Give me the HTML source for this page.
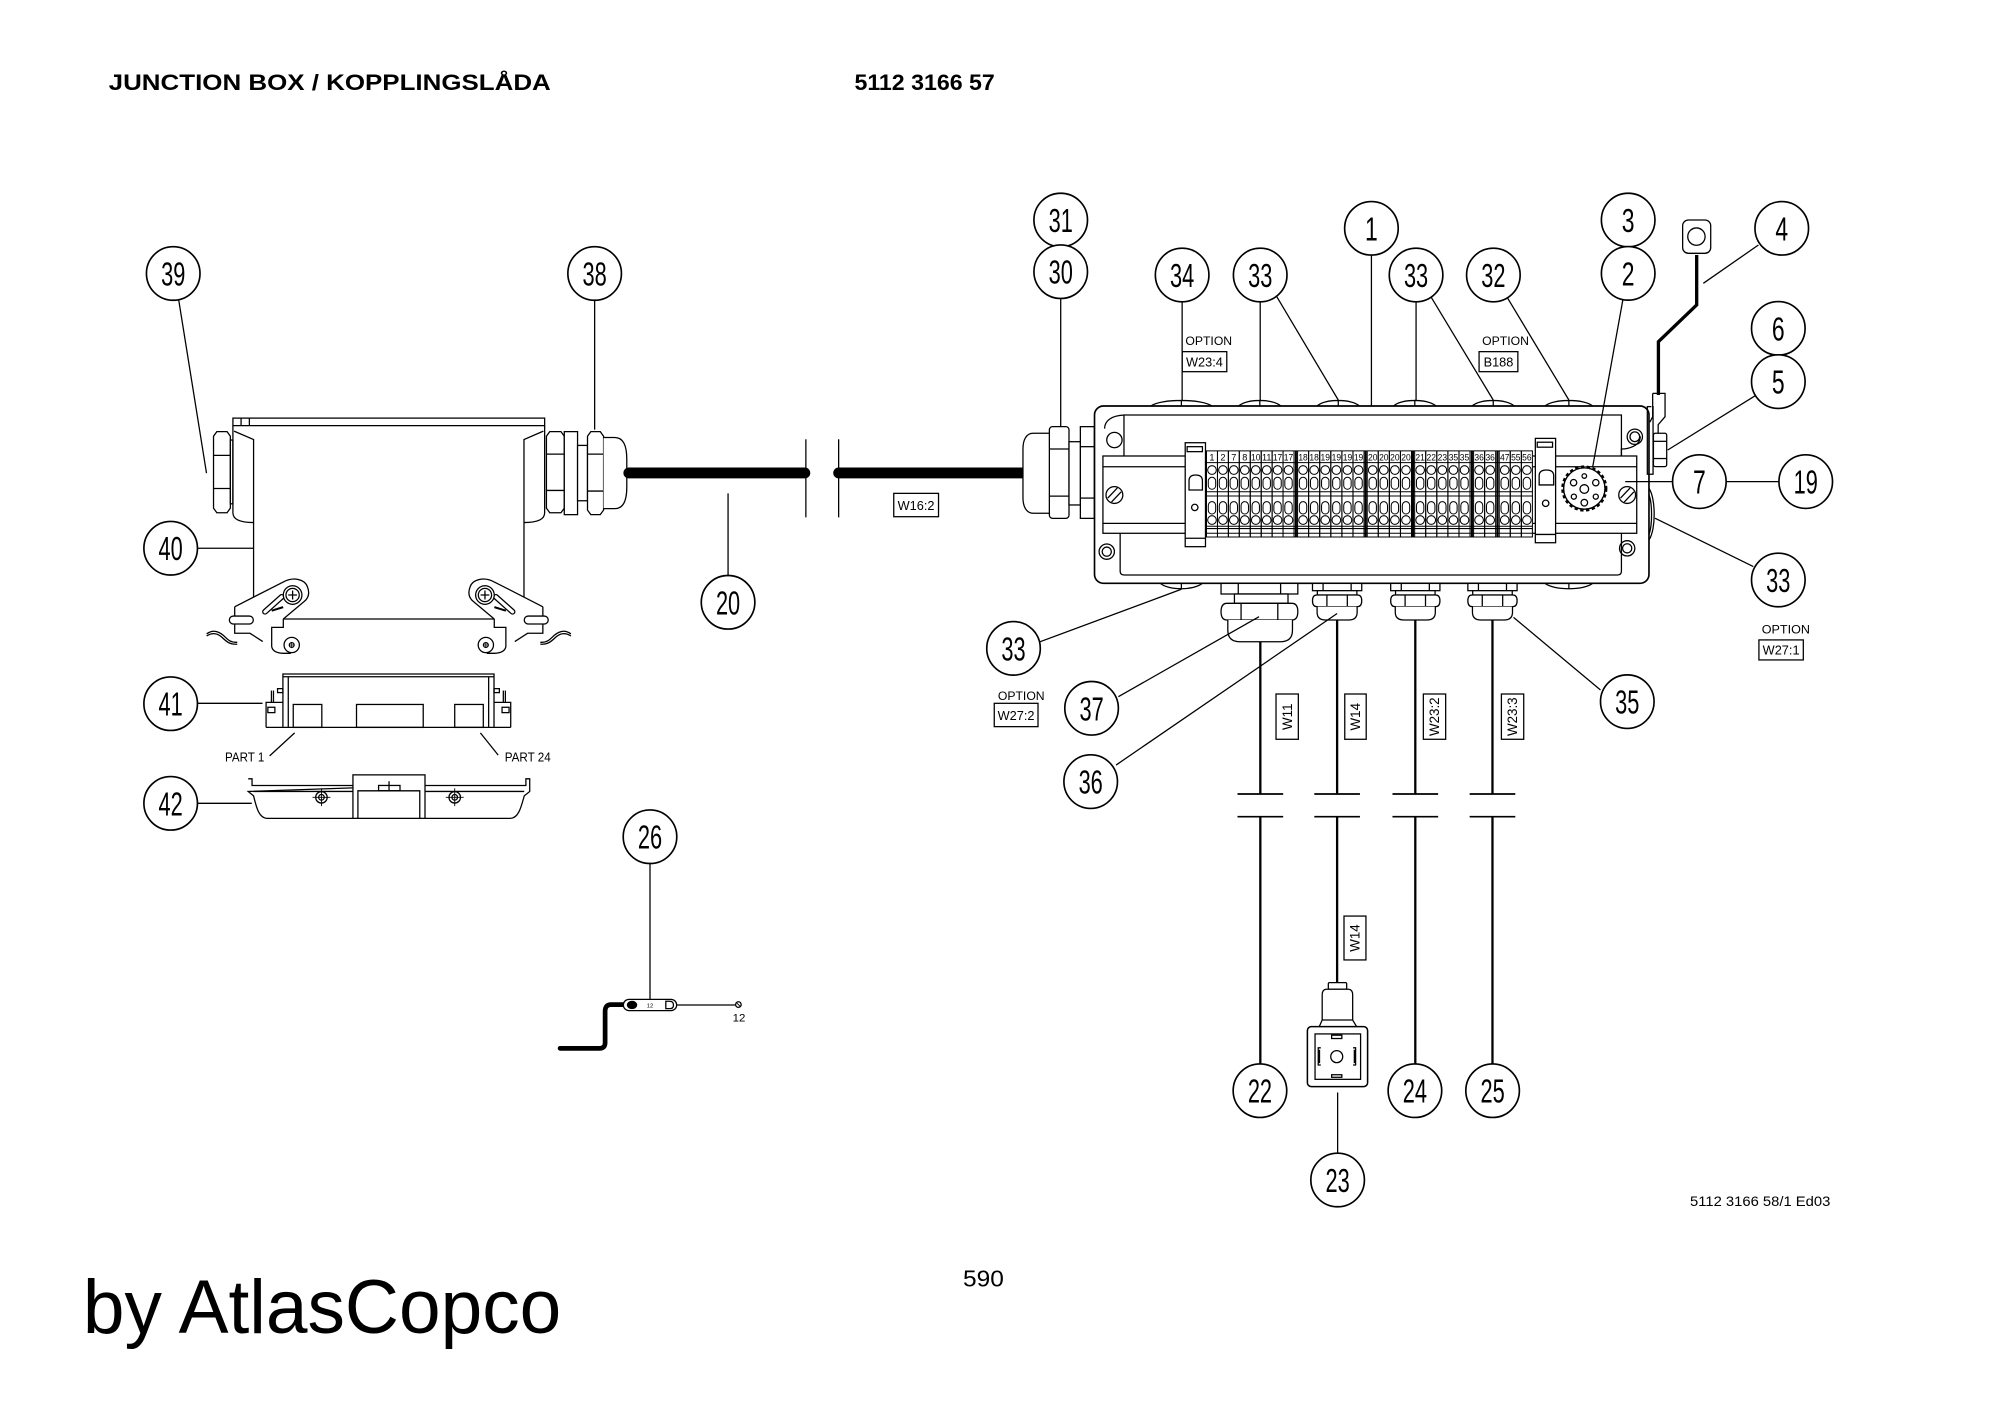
<!DOCTYPE html>
<html><head><meta charset="utf-8"><style>html,body{margin:0;padding:0;background:#fff;width:2000px;height:1413px;overflow:hidden}svg{display:block}</style></head>
<body>
<svg xmlns="http://www.w3.org/2000/svg" xmlns:xlink="http://www.w3.org/1999/xlink" width="2000" height="1413" viewBox="0 0 1568 1107.8" font-family="'Liberation Sans', Arial, sans-serif">
<defs>
<g id="t" fill="none" stroke="#000" stroke-width="0.8">
<line x1="-4.3" y1="353.5" x2="-4.3" y2="421"/>
<line x1="4.3" y1="353.5" x2="4.3" y2="421"/>
<circle cx="0" cy="368.5" r="3.4"/>
<rect x="-2.9" y="374.2" width="5.8" height="9.4" rx="2.9"/>
<rect x="-2.9" y="393.3" width="5.8" height="9.7" rx="2.9"/>
<circle cx="0" cy="407.7" r="3.4"/>
</g>
<g id="gl" fill="#fff" stroke="#000" stroke-width="1">
<rect x="-19.3" y="457.4" width="38.6" height="5.7"/>
<line x1="-11" y1="457.4" x2="-11" y2="463.1"/>
<line x1="11" y1="457.4" x2="11" y2="463.1"/>
<rect x="-15.5" y="463.1" width="31" height="3.4"/>
<path d="M-16 466.5 H16 Q19.3 466.5 19.3 471 Q19.3 475.6 16 475.6 H-16 Q-19.3 475.6 -19.3 471 Q-19.3 466.5 -16 466.5 Z"/>
<line x1="-8" y1="466.5" x2="-8" y2="475.6"/>
<line x1="8" y1="466.5" x2="8" y2="475.6"/>
<path d="M-15.7 475.6 V480 Q-15.7 486.1 -9 486.1 H9 Q15.7 486.1 15.7 480 V475.6"/>
</g>
<g id="latch" fill="none" stroke="#000" stroke-width="1">
<path d="M184 475.7 L222 456.3 C230 452 239 454 241 460 C243 465 242 469 238 472 L222.1 485.3" fill="#fff"/>
<path d="M184 475.7 V496.5 H196 L206 503"/>
<path d="M222.1 485.3 V491.9 H213 V507 Q214 512 222 512.2 H228"/>
<rect x="179.8" y="483" width="18.8" height="6.2" rx="3.1" fill="#fff"/>
<path d="M162 497 C166 494 170 494 175 498 C179 502 181 504 186 503.5"/>
<path d="M162 498.6 C166 496 170 496 174 499.6 C178 503.6 181 505.6 186 505"/>
<line x1="207.8" y1="479.6" x2="220.8" y2="468" stroke-width="4.6" stroke-linecap="round"/>
<line x1="207.8" y1="479.6" x2="220.8" y2="468" stroke="#fff" stroke-width="2.6" stroke-linecap="round"/>
<line x1="213" y1="478.8" x2="222" y2="476" stroke-width="1.6"/>
<circle cx="229.4" cy="466.5" r="7.3" fill="#fff"/>
<circle cx="229.4" cy="466.5" r="5.2"/>
<path d="M226 466.5 H232.8 M229.4 463 V470"/>
<circle cx="228.7" cy="505.7" r="6" fill="#fff"/>
<circle cx="228.7" cy="505.7" r="1.9"/>
<path d="M226.8 505.7 H230.6 M228.7 503.8 V507.6" stroke-width="0.6"/>
</g>
</defs>

<rect x="0" y="0" width="1568" height="1107.8" fill="#fff"/>

<!-- Titles -->
<text x="85.2" y="70.6" font-size="17.5" font-weight="bold" textLength="346.6" lengthAdjust="spacingAndGlyphs">JUNCTION BOX / KOPPLINGSLÅDA</text>
<text x="669.9" y="70.6" font-size="17.5" font-weight="bold" textLength="110" lengthAdjust="spacingAndGlyphs">5112 3166 57</text>
<text x="1325" y="945.5" font-size="11" textLength="110" lengthAdjust="spacingAndGlyphs">5112 3166 58/1 Ed03</text>
<text x="755" y="1008.8" font-size="18" textLength="32" lengthAdjust="spacingAndGlyphs">590</text>
<text x="65" y="1045" font-size="60" textLength="375" lengthAdjust="spacingAndGlyphs">by AtlasCopco</text>

<g fill="none" stroke="#000" stroke-width="1">

<!-- ===== LEFT BOX (40) ===== -->
<rect x="182.6" y="327.8" width="244.4" height="5.9"/>
<line x1="189" y1="327.8" x2="189" y2="333.7"/>
<line x1="195.5" y1="327.8" x2="195.5" y2="333.7"/>
<path d="M182.6 333.7 V402 C182.6 408 190 409.7 198.8 409.7"/>
<path d="M183.5 338 L198.8 344.6 V469"/>
<path d="M427 333.7 V402 C427 408 419.6 409.7 410.8 409.7"/>
<path d="M426 338 L410.8 344.6 V469"/>
<path d="M222.1 485.3 H387.5"/>
<!-- nut 39 -->
<path d="M170 338.4 H178 L180.6 342 V398.4 L178 402 H170 L167.4 398.4 V342 Z" fill="#fff"/>
<line x1="167.4" y1="357" x2="180.6" y2="357"/>
<line x1="167.4" y1="383" x2="180.6" y2="383"/>
<rect x="180.6" y="345" width="2" height="50"/>
<!-- gland 38 -->
<path d="M431 338.4 H439.8 L442.4 342 V398.4 L439.8 402 H431 L428.4 398.4 V342 Z" fill="#fff"/>
<line x1="428.4" y1="356" x2="442.4" y2="356"/>
<line x1="428.4" y1="384.5" x2="442.4" y2="384.5"/>
<rect x="442.4" y="338.4" width="10.4" height="65.1" fill="#fff"/>
<rect x="452.8" y="349.2" width="7.8" height="43.4" fill="#fff"/>
<path d="M463.2 338.4 H470.6 L473.2 342 V399.9 L470.6 403.5 H463.2 L460.6 399.9 V342 Z" fill="#fff"/>
<line x1="460.6" y1="356" x2="473.2" y2="356"/>
<line x1="460.6" y1="385" x2="473.2" y2="385"/>
<path d="M473.2 343 H482 C489 343 491.4 350 491.4 360 V382 C491.4 392 489 398.8 482 398.8 H473.2" fill="#fff"/>
<!-- latches -->
<use xlink:href="#latch" href="#latch"/>
<use xlink:href="#latch" href="#latch" transform="translate(609.6,0) scale(-1,1)"/>

<!-- ===== PART 41 ===== -->
<path d="M221.8 570.3 V528.4 H387.3 V570.3"/>
<line x1="221.8" y1="530.6" x2="387.3" y2="530.6"/>
<line x1="226" y1="530.6" x2="226" y2="570.3"/>
<line x1="383.1" y1="530.6" x2="383.1" y2="570.3"/>
<path d="M208.6 570.3 V550.7 H221.8"/>
<path d="M400.4 570.3 V550.7 H387.3"/>
<line x1="212.8" y1="541.4" x2="212.8" y2="550.7"/>
<line x1="214.4" y1="541.4" x2="214.4" y2="550.7"/>
<line x1="394.6" y1="541.4" x2="394.6" y2="550.7"/>
<line x1="396.2" y1="541.4" x2="396.2" y2="550.7"/>
<rect x="210" y="554.5" width="5.5" height="4.2"/>
<rect x="393.6" y="554.5" width="5.5" height="4.2"/>
<rect x="217.6" y="539.9" width="4.2" height="3.1"/>
<rect x="387.3" y="539.9" width="4.2" height="3.1"/>
<line x1="208.6" y1="570.3" x2="400.4" y2="570.3"/>
<rect x="229.9" y="552.3" width="22.4" height="18"/>
<rect x="279.5" y="552.3" width="52.3" height="18"/>
<rect x="356.5" y="552.3" width="22.4" height="18"/>
<line x1="211.4" y1="592.6" x2="231" y2="574.6"/>
<line x1="390.6" y1="592" x2="376.6" y2="574.6"/>

<!-- ===== PART 42 ===== -->
<path d="M194.6 610.6 H197.6 V615.8 H276.7 M333.2 615.8 H412.3 V610.6 H415.3 V620.5 L411 624 C408.5 633 406.5 641.6 400 641.6 H209.6 C203 641.6 201 633 198.8 624 L194.6 620.5 Z"/>
<line x1="198.8" y1="620.5" x2="276.7" y2="620.5"/>
<line x1="333.2" y1="620.5" x2="411" y2="620.5"/>
<rect x="276.7" y="607.5" width="56.5" height="34.1" fill="#fff"/>
<path d="M280.6 641.6 V620 H329.1 V641.6"/>
<rect x="296.8" y="615.8" width="16.8" height="4.1"/>
<line x1="305" y1="612.5" x2="305" y2="619.9"/>
<circle cx="252" cy="625.1" r="4.5"/><circle cx="252" cy="625.1" r="2.2"/>
<path d="M245 625.1 H259 M252 618 V632" stroke-width="0.7"/>
<circle cx="356.5" cy="625.1" r="4.5"/><circle cx="356.5" cy="625.1" r="2.2"/>
<path d="M349.5 625.1 H363.5 M356.5 618 V632" stroke-width="0.7"/>

<!-- ===== CABLE 20 ===== -->
<line x1="493" y1="370.8" x2="631" y2="370.8" stroke-width="8.5" stroke-linecap="round"/>
<line x1="657.5" y1="370.8" x2="801.8" y2="370.8" stroke-width="8.5" stroke-linecap="round"/>
<line x1="631.8" y1="344.4" x2="631.8" y2="405.6"/>
<line x1="657.5" y1="344.4" x2="657.5" y2="405.6"/>
<rect x="700.7" y="386.8" width="35.1" height="18.3"/>

<!-- ===== RIGHT BOX ===== -->
<!-- gland 30/31 -->
<path d="M822.7 339.7 H810 C804.5 339.7 802 345 802 352 V390 C802 397 804.5 402.4 810 402.4 H822.7" fill="#fff"/>
<rect x="822.7" y="334.5" width="15.4" height="71.9" rx="2.5" fill="#fff"/>
<line x1="822.7" y1="352" x2="838.1" y2="352"/>
<line x1="822.7" y1="389" x2="838.1" y2="389"/>
<rect x="838.1" y="346.3" width="9" height="49.6" fill="#fff"/>
<rect x="847" y="334.5" width="11" height="71.9" fill="#fff"/>
<line x1="847" y1="350.2" x2="858" y2="350.2"/>
<line x1="847" y1="390.5" x2="858" y2="390.5"/>
<!-- top domes -->
<path d="M902.2 318.3 C910 312.5 942 312.5 950.2 318.3 M926.2 313.4 V318.3"/>
<path d="M971.2 318.3 C977 312.5 998 312.5 1004.2 318.3 M987.7 313.4 V318.3"/>
<path d="M1032.7 318.3 C1038 312.5 1060 312.5 1065.7 318.3 M1049.2 313.4 V318.3"/>
<path d="M1092.7 318.3 C1098 312.5 1120 312.5 1125.7 318.3 M1109.2 313.4 V318.3"/>
<path d="M1154.2 318.3 C1160 312.5 1181 312.5 1187.2 318.3 M1170.7 313.4 V318.3"/>
<path d="M1211.2 318.3 C1218 312.5 1242 312.5 1248.7 318.3 M1230 313.4 V318.3"/>
<!-- bottom lenses -->
<path d="M909.7 457.3 C916 463 936 463 942.7 457.3 M926.2 457.3 V462"/>
<path d="M1211.2 457.3 C1218 463 1242 463 1248.7 457.3 M1230 457.3 V462"/>
<!-- outer box -->
<rect x="858.1" y="318.3" width="434.7" height="139" rx="7" fill="#fff" stroke-width="1.3"/>
<!-- inner panels -->
<path d="M881.2 357.5 V325.4 H1271.2 V357.5"/>
<path d="M866 336 C866 330 871 326 881.2 325.4"/>
<path d="M878.2 418.1 V447.8 Q878.2 450.8 881.2 450.8 H1268.2 Q1271.2 450.8 1271.2 447.8 V418.1"/>
<path d="M1271.2 357.5 V352 C1276 352 1286 350 1286 342"/>
<!-- rail -->
<rect x="864.7" y="357.5" width="418.5" height="60.6"/>
<line x1="864.7" y1="365.9" x2="1283.2" y2="365.9"/>
<line x1="864.7" y1="410.3" x2="1283.2" y2="410.3"/>
<!-- corner holes -->
<circle cx="873.7" cy="345" r="6"/>
<circle cx="1281.7" cy="342.4" r="6"/><circle cx="1281.7" cy="342.4" r="3.8"/>
<circle cx="867.7" cy="432.5" r="6"/><circle cx="867.7" cy="432.5" r="3.6"/>
<circle cx="1275.7" cy="429.9" r="6"/><circle cx="1275.7" cy="429.9" r="3.6"/>
<!-- rail screws -->
<circle cx="873.7" cy="388.1" r="6.6" fill="#fff"/>
<path d="M868.5 390.5 L876 382.5 M871.4 393.6 L879 385.6"/>
<circle cx="1275.7" cy="388.1" r="6.6" fill="#fff"/>
<path d="M1270.5 390.5 L1278 382.5 M1273.4 393.6 L1281 385.6"/>
<!-- end stops -->
<rect x="929.2" y="347.1" width="15.9" height="81.5" fill="#fff"/>
<rect x="930.7" y="350.2" width="12" height="3.9"/>
<path d="M932.2 384.2 V377 Q932.2 372.4 937.4 372.4 Q942.7 372.4 942.7 377 V384.2 Z"/>
<circle cx="936.7" cy="397.8" r="2.5"/>
<line x1="929.2" y1="422" x2="945.1" y2="422"/>
<rect x="1203.7" y="343.7" width="15.9" height="81.8" fill="#fff"/>
<rect x="1205.2" y="346.7" width="12" height="3.9"/>
<path d="M1206.7 380.2 V373 Q1206.7 368.5 1212.4 368.5 Q1218.1 368.5 1218.1 373 V380.2 Z"/>
<circle cx="1211.8" cy="394.6" r="2.5"/>
<line x1="1203.7" y1="419" x2="1219.6" y2="419"/>
<!-- terminal block -->
<rect x="945.5" y="353.5" width="256.3" height="67.5" fill="#fff" stroke="none"/>
<g stroke-width="0.8">
<line x1="945.5" y1="353.5" x2="1201.8" y2="353.5"/>
<line x1="945.5" y1="362.7" x2="1201.8" y2="362.7"/>
<line x1="945.5" y1="385.5" x2="1201.8" y2="385.5"/>
<line x1="945.5" y1="388.9" x2="1201.8" y2="388.9"/>
<line x1="945.5" y1="412.6" x2="1201.8" y2="412.6"/>
<line x1="945.5" y1="414.4" x2="1201.8" y2="414.4"/>
<line x1="945.5" y1="418.1" x2="1201.8" y2="418.1"/>
<line x1="945.5" y1="421" x2="1201.8" y2="421"/>
</g>
<use xlink:href="#t" href="#t" x="950.2"/><use xlink:href="#t" href="#t" x="958.8"/><use xlink:href="#t" href="#t" x="967.3"/><use xlink:href="#t" href="#t" x="975.9"/><use xlink:href="#t" href="#t" x="984.5"/><use xlink:href="#t" href="#t" x="993.1"/><use xlink:href="#t" href="#t" x="1001.6"/><use xlink:href="#t" href="#t" x="1010.2"/>
<use xlink:href="#t" href="#t" x="1021.6"/><use xlink:href="#t" href="#t" x="1030.3"/><use xlink:href="#t" href="#t" x="1039"/><use xlink:href="#t" href="#t" x="1047.7"/><use xlink:href="#t" href="#t" x="1056.4"/><use xlink:href="#t" href="#t" x="1065.1"/>
<use xlink:href="#t" href="#t" x="1076.2"/><use xlink:href="#t" href="#t" x="1084.9"/><use xlink:href="#t" href="#t" x="1093.6"/><use xlink:href="#t" href="#t" x="1102.3"/>
<use xlink:href="#t" href="#t" x="1113.4"/><use xlink:href="#t" href="#t" x="1122.1"/><use xlink:href="#t" href="#t" x="1130.8"/><use xlink:href="#t" href="#t" x="1139.5"/><use xlink:href="#t" href="#t" x="1148.2"/>
<use xlink:href="#t" href="#t" x="1159.6"/><use xlink:href="#t" href="#t" x="1168.3"/>
<use xlink:href="#t" href="#t" x="1179.7"/><use xlink:href="#t" href="#t" x="1188.4"/><use xlink:href="#t" href="#t" x="1197.1"/>
<g stroke-width="1.6">
<line x1="1016" y1="353.5" x2="1016" y2="421"/>
<line x1="1070.7" y1="353.5" x2="1070.7" y2="421"/>
<line x1="1107.8" y1="353.5" x2="1107.8" y2="421"/>
<line x1="1154" y1="353.5" x2="1154" y2="421"/>
<line x1="1174" y1="353.5" x2="1174" y2="421"/>
</g>
<!-- round connector -->
<circle cx="1242.1" cy="383" r="17.2" stroke-width="1.8" stroke-dasharray="2.6 2" fill="#fff"/>
<circle cx="1242.1" cy="383" r="16.2" stroke-width="1.1"/>
<circle cx="1242.1" cy="383.4" r="3.4"/>
<circle cx="1233.7" cy="378.4" r="2.5"/>
<circle cx="1251.1" cy="378.4" r="2.5"/>
<circle cx="1233.9" cy="389.4" r="2"/>
<circle cx="1251.1" cy="389.4" r="2"/>
<circle cx="1242.1" cy="373.2" r="1.8"/>
<circle cx="1242.1" cy="394.1" r="2.6"/>
<!-- right side hardware -->
<rect x="1291.5" y="318.8" width="4.5" height="53"/>
<rect x="1296.3" y="339.7" width="10.4" height="26.1" rx="1.5" fill="#fff"/>
<line x1="1296.3" y1="346" x2="1306.7" y2="346"/>
<line x1="1296.3" y1="359.5" x2="1306.7" y2="359.5"/>
<path d="M1295.7 308.4 H1305.4 V326.7 L1300 333 V339.7 M1295.7 308.4 V326.7 L1293.5 331" fill="#fff"/>
<path d="M1292.8 383 C1298 390 1298.5 415 1292.8 423.3"/>
<path d="M1292.8 388 C1295.5 395 1295.5 412 1292.8 419"/>
<!-- part 4 wire & ring -->
<path d="M1330.2 199.9 V239.1 L1300.2 267.9 V309.7" stroke-width="2.6"/>
<rect x="1319.2" y="172.5" width="22" height="26.1" rx="4.5" fill="#fff"/>
<circle cx="1330" cy="185.5" r="6.8"/>

<!-- bottom glands -->
<g fill="#fff">
<rect x="957.3" y="457.4" width="60.2" height="8.3"/>
<line x1="970.8" y1="457.4" x2="970.8" y2="465.7"/>
<line x1="1004" y1="457.4" x2="1004" y2="465.7"/>
<rect x="967.8" y="465.7" width="42" height="7.3"/>
<path d="M962 473 H1012.8 Q1017.5 473 1017.5 479.5 Q1017.5 486.1 1012.8 486.1 H962 Q957.3 486.1 957.3 479.5 Q957.3 473 962 473 Z"/>
<line x1="973" y1="473" x2="973" y2="486.1"/>
<line x1="1001.8" y1="473" x2="1001.8" y2="486.1"/>
<path d="M962.6 486.1 V494 Q962.6 503.1 972 503.1 H1004 Q1013.3 503.1 1013.3 494 V486.1"/>
</g>
<use xlink:href="#gl" href="#gl" x="1048.3"/>
<use xlink:href="#gl" href="#gl" x="1109.6"/>
<use xlink:href="#gl" href="#gl" x="1170.1"/>

<!-- bottom cables -->
<g stroke-width="1.8">
<line x1="988.1" y1="503.1" x2="988.1" y2="622.5"/>
<line x1="988.1" y1="640.3" x2="988.1" y2="834.2"/>
<line x1="1048.3" y1="486.1" x2="1048.3" y2="622.5"/>
<line x1="1048.3" y1="640.3" x2="1048.3" y2="770.5"/>
<line x1="1109.6" y1="486.1" x2="1109.6" y2="622.5"/>
<line x1="1109.6" y1="640.3" x2="1109.6" y2="834.2"/>
<line x1="1170.1" y1="486.1" x2="1170.1" y2="622.5"/>
<line x1="1170.1" y1="640.3" x2="1170.1" y2="834.2"/>
</g>
<g stroke-width="1.3">
<line x1="970.2" y1="622.5" x2="1006" y2="622.5"/><line x1="970.2" y1="640.3" x2="1006" y2="640.3"/>
<line x1="1030.4" y1="622.5" x2="1066.2" y2="622.5"/><line x1="1030.4" y1="640.3" x2="1066.2" y2="640.3"/>
<line x1="1091.7" y1="622.5" x2="1127.5" y2="622.5"/><line x1="1091.7" y1="640.3" x2="1127.5" y2="640.3"/>
<line x1="1152.2" y1="622.5" x2="1188" y2="622.5"/><line x1="1152.2" y1="640.3" x2="1188" y2="640.3"/>
</g>
<rect x="1000.4" y="544.1" width="17.5" height="35.5"/>
<rect x="1054.3" y="544.1" width="16.8" height="35.5"/>
<rect x="1115.9" y="544.1" width="17.5" height="35.5"/>
<rect x="1177.1" y="544.1" width="17.5" height="35.5"/>
<rect x="1053.7" y="718.2" width="17.2" height="34.4"/>

<!-- connector 23 -->
<rect x="1041.4" y="770.4" width="14.4" height="5.2" rx="1" fill="#fff"/>
<path d="M1039.5 775.6 H1057.5 Q1060.5 776 1060.5 780 V799.7 H1036.6 V780 Q1036.6 776 1039.5 775.6 Z" fill="#fff"/>
<path d="M1036.6 799.7 L1034.3 804.9 H1063.6 L1060.5 799.7"/>
<rect x="1025" y="804.9" width="47.2" height="47" rx="3" fill="#fff" stroke-width="1.2"/>
<rect x="1031" y="810.6" width="35.7" height="35.6"/>
<circle cx="1048" cy="828.4" r="4.7"/>
<rect x="1044" y="811.6" width="8" height="2.6"/>
<rect x="1044" y="842.6" width="8" height="2"/>
<path d="M1035.5 821.5 H1033.5 V835 H1035.5 M1034.5 823 V833.5"/>
<path d="M1060.8 821.5 H1062.8 V835 H1060.8 M1061.8 823 V833.5"/>

<!-- part 26 -->
<path d="M496.6 787.6 H479 Q474.4 787.6 474.4 793 V817.5 Q474.4 821.9 470 821.9 H439.1" stroke-width="3.7" stroke-linecap="round"/>
<rect x="488.7" y="783.5" width="41.8" height="8.8" rx="4.4" fill="#fff"/>
<ellipse cx="495.5" cy="787.9" rx="3.6" ry="2.8" fill="#000"/>
<path d="M522 785 H525 Q528 785 528 787.9 Q528 790.8 525 790.8 H522 Z"/>
<line x1="530.5" y1="787.9" x2="576.8" y2="787.9"/>
<circle cx="578.9" cy="787.6" r="2.2"/>
<line x1="577.3" y1="786" x2="580.5" y2="789.2" stroke-width="0.7"/>

<!-- ===== LEADERS ===== -->
<line x1="140" y1="234.5" x2="161.9" y2="371"/>
<line x1="466.2" y1="235.4" x2="466.2" y2="336.8"/>
<line x1="154.8" y1="429.8" x2="198.8" y2="429.8"/>
<line x1="154.8" y1="551.4" x2="205.8" y2="551.4"/>
<line x1="154.8" y1="629.8" x2="197.4" y2="629.8"/>
<line x1="570.8" y1="386.8" x2="570.8" y2="451.2"/>
<line x1="509.6" y1="677" x2="509.6" y2="783.5"/>
<line x1="831.6" y1="234" x2="831.6" y2="334.5"/>
<line x1="926.8" y1="236.6" x2="926.8" y2="313.6"/>
<line x1="988" y1="236.6" x2="988" y2="313.6"/>
<line x1="1001" y1="232.6" x2="1049.2" y2="313.6"/>
<line x1="1075.2" y1="200" x2="1075.2" y2="318.3"/>
<line x1="1110.2" y1="236.6" x2="1110.2" y2="313.6"/>
<line x1="1121.8" y1="232.6" x2="1170.7" y2="313.6"/>
<line x1="1181.3" y1="232.6" x2="1230" y2="313.6"/>
<line x1="1272.3" y1="235.2" x2="1248.7" y2="365.9"/>
<line x1="1378.6" y1="192.1" x2="1335.4" y2="222.1"/>
<line x1="1376" y1="310.3" x2="1307.5" y2="352.8"/>
<line x1="1274.2" y1="377.6" x2="1311.3" y2="377.6"/>
<line x1="1353.3" y1="377.6" x2="1394.7" y2="377.6"/>
<line x1="1374.6" y1="444.2" x2="1297.5" y2="406.3"/>
<line x1="815.5" y1="503.1" x2="926.2" y2="462"/>
<line x1="876.8" y1="546.2" x2="987.1" y2="483.5"/>
<line x1="875" y1="599.8" x2="1048.3" y2="481"/>
<line x1="1254.8" y1="541" x2="1186.6" y2="484"/>
<line x1="1048.7" y1="856.5" x2="1048.7" y2="904.1"/>

<!-- option boxes -->
<rect x="926.8" y="275.7" width="35" height="15.7"/>
<rect x="1159.6" y="275.7" width="30.4" height="15.7"/>
<rect x="1379" y="501.7" width="34.8" height="15.7"/>
<rect x="779.5" y="551.4" width="34.3" height="18.3"/>

<!-- ===== CIRCLES ===== -->
<g fill="#fff" stroke-width="1.3">
<circle cx="135.8" cy="214.4" r="21"/>
<circle cx="466.2" cy="214.4" r="21"/>
<circle cx="133.8" cy="429.8" r="21"/>
<circle cx="133.8" cy="551.7" r="21"/>
<circle cx="133.8" cy="629.8" r="21"/>
<circle cx="570.8" cy="472.2" r="21"/>
<circle cx="509.6" cy="656" r="21"/>
<circle cx="831.6" cy="172.5" r="21"/>
<circle cx="831.6" cy="213" r="21"/>
<circle cx="926.8" cy="215.6" r="21"/>
<circle cx="988" cy="215.6" r="21"/>
<circle cx="1075.2" cy="179" r="21"/>
<circle cx="1110.2" cy="215.6" r="21"/>
<circle cx="1170.8" cy="215.6" r="21"/>
<circle cx="1276.5" cy="172.5" r="21"/>
<circle cx="1276.5" cy="214.3" r="21"/>
<circle cx="1396.9" cy="179" r="21"/>
<circle cx="1394.2" cy="257.4" r="21"/>
<circle cx="1394.2" cy="299.2" r="21"/>
<circle cx="1332.3" cy="377.6" r="21"/>
<circle cx="1415.7" cy="377.6" r="21"/>
<circle cx="1394.2" cy="454.7" r="21"/>
<circle cx="794.6" cy="508.3" r="21"/>
<circle cx="855.8" cy="555.3" r="21"/>
<circle cx="855.1" cy="612.8" r="21"/>
<circle cx="1275.8" cy="550.1" r="21"/>
<circle cx="987.8" cy="855.1" r="21"/>
<circle cx="1048.7" cy="925.1" r="21"/>
<circle cx="1109.3" cy="855.1" r="21"/>
<circle cx="1170.2" cy="855.1" r="21"/>
</g>
</g>

<!-- ===== TEXT ===== -->
<g fill="#000" stroke="none" font-size="26">
<text x="126.3" y="223.8" textLength="19" lengthAdjust="spacingAndGlyphs">39</text>
<text x="456.7" y="223.8" textLength="19" lengthAdjust="spacingAndGlyphs">38</text>
<text x="124.3" y="439.2" textLength="19" lengthAdjust="spacingAndGlyphs">40</text>
<text x="124.3" y="561.1" textLength="19" lengthAdjust="spacingAndGlyphs">41</text>
<text x="124.3" y="639.2" textLength="19" lengthAdjust="spacingAndGlyphs">42</text>
<text x="561.3" y="481.6" textLength="19" lengthAdjust="spacingAndGlyphs">20</text>
<text x="500.1" y="665.4" textLength="19" lengthAdjust="spacingAndGlyphs">26</text>
<text x="822.1" y="181.9" textLength="19" lengthAdjust="spacingAndGlyphs">31</text>
<text x="822.1" y="222.4" textLength="19" lengthAdjust="spacingAndGlyphs">30</text>
<text x="917.3" y="225" textLength="19" lengthAdjust="spacingAndGlyphs">34</text>
<text x="978.5" y="225" textLength="19" lengthAdjust="spacingAndGlyphs">33</text>
<text x="1070.2" y="188.4" textLength="10" lengthAdjust="spacingAndGlyphs">1</text>
<text x="1100.7" y="225" textLength="19" lengthAdjust="spacingAndGlyphs">33</text>
<text x="1161.3" y="225" textLength="19" lengthAdjust="spacingAndGlyphs">32</text>
<text x="1271.5" y="181.9" textLength="10" lengthAdjust="spacingAndGlyphs">3</text>
<text x="1271.5" y="223.7" textLength="10" lengthAdjust="spacingAndGlyphs">2</text>
<text x="1391.9" y="188.4" textLength="10" lengthAdjust="spacingAndGlyphs">4</text>
<text x="1389.2" y="266.8" textLength="10" lengthAdjust="spacingAndGlyphs">6</text>
<text x="1389.2" y="308.6" textLength="10" lengthAdjust="spacingAndGlyphs">5</text>
<text x="1327.3" y="387" textLength="10" lengthAdjust="spacingAndGlyphs">7</text>
<text x="1406.2" y="387" textLength="19" lengthAdjust="spacingAndGlyphs">19</text>
<text x="1384.7" y="464.1" textLength="19" lengthAdjust="spacingAndGlyphs">33</text>
<text x="785.1" y="517.7" textLength="19" lengthAdjust="spacingAndGlyphs">33</text>
<text x="846.3" y="564.7" textLength="19" lengthAdjust="spacingAndGlyphs">37</text>
<text x="845.6" y="622.2" textLength="19" lengthAdjust="spacingAndGlyphs">36</text>
<text x="1266.3" y="559.5" textLength="19" lengthAdjust="spacingAndGlyphs">35</text>
<text x="978.3" y="864.5" textLength="19" lengthAdjust="spacingAndGlyphs">22</text>
<text x="1039.2" y="934.5" textLength="19" lengthAdjust="spacingAndGlyphs">23</text>
<text x="1099.8" y="864.5" textLength="19" lengthAdjust="spacingAndGlyphs">24</text>
<text x="1160.7" y="864.5" textLength="19" lengthAdjust="spacingAndGlyphs">25</text>
</g>

<g fill="#000" stroke="none" font-size="9.5">
<text x="929.3" y="270.5" textLength="36.7" lengthAdjust="spacingAndGlyphs">OPTION</text>
<text x="1162" y="270.5" textLength="36.7" lengthAdjust="spacingAndGlyphs">OPTION</text>
<text x="1381.2" y="496.5" textLength="37.8" lengthAdjust="spacingAndGlyphs">OPTION</text>
<text x="782.3" y="548.8" textLength="36.7" lengthAdjust="spacingAndGlyphs">OPTION</text>
<text x="944.3" y="287.2" text-anchor="middle" font-size="10">W23:4</text>
<text x="1174.8" y="287.2" text-anchor="middle" font-size="10">B188</text>
<text x="1396.4" y="513.2" text-anchor="middle" font-size="10">W27:1</text>
<text x="796.6" y="564.4" text-anchor="middle" font-size="10">W27:2</text>
<text x="718.2" y="399.8" text-anchor="middle" font-size="10">W16:2</text>
<text x="176.4" y="597" font-size="10" textLength="30.8" lengthAdjust="spacingAndGlyphs">PART 1</text>
<text x="395.7" y="597" font-size="10" textLength="36.1" lengthAdjust="spacingAndGlyphs">PART 24</text>
<text transform="translate(1012.8,561.9) rotate(-90)" text-anchor="middle" font-size="10.5">W11</text>
<text transform="translate(1066.4,561.9) rotate(-90)" text-anchor="middle" font-size="10.5">W14</text>
<text transform="translate(1128.3,561.9) rotate(-90)" text-anchor="middle" font-size="10.5">W23:2</text>
<text transform="translate(1189.5,561.9) rotate(-90)" text-anchor="middle" font-size="10.5">W23:3</text>
<text transform="translate(1066,735.4) rotate(-90)" text-anchor="middle" font-size="10.5">W14</text>
<text x="579.4" y="801" text-anchor="middle" font-size="9">12</text>
<text x="509.6" y="789.8" text-anchor="middle" font-size="4.5">12</text>
</g>

<!-- terminal labels -->
<g fill="#000" stroke="none" font-size="7.2" text-anchor="middle">
<text x="950.2" y="361.2">1</text><text x="958.8" y="361.2">2</text><text x="967.3" y="361.2">7</text><text x="975.9" y="361.2">8</text>
<text x="984.5" y="361.2" textLength="7.4" lengthAdjust="spacingAndGlyphs">10</text><text x="993.1" y="361.2" textLength="7.4" lengthAdjust="spacingAndGlyphs">11</text><text x="1001.6" y="361.2" textLength="7.4" lengthAdjust="spacingAndGlyphs">17</text><text x="1010.2" y="361.2" textLength="7.4" lengthAdjust="spacingAndGlyphs">17</text>
<text x="1021.6" y="361.2" textLength="7.4" lengthAdjust="spacingAndGlyphs">18</text><text x="1030.3" y="361.2" textLength="7.4" lengthAdjust="spacingAndGlyphs">18</text><text x="1039" y="361.2" textLength="7.4" lengthAdjust="spacingAndGlyphs">19</text><text x="1047.7" y="361.2" textLength="7.4" lengthAdjust="spacingAndGlyphs">19</text><text x="1056.4" y="361.2" textLength="7.4" lengthAdjust="spacingAndGlyphs">19</text><text x="1065.1" y="361.2" textLength="7.4" lengthAdjust="spacingAndGlyphs">19</text>
<text x="1076.2" y="361.2" textLength="7.4" lengthAdjust="spacingAndGlyphs">20</text><text x="1084.9" y="361.2" textLength="7.4" lengthAdjust="spacingAndGlyphs">20</text><text x="1093.6" y="361.2" textLength="7.4" lengthAdjust="spacingAndGlyphs">20</text><text x="1102.3" y="361.2" textLength="7.4" lengthAdjust="spacingAndGlyphs">20</text>
<text x="1113.4" y="361.2" textLength="7.4" lengthAdjust="spacingAndGlyphs">21</text><text x="1122.1" y="361.2" textLength="7.4" lengthAdjust="spacingAndGlyphs">22</text><text x="1130.8" y="361.2" textLength="7.4" lengthAdjust="spacingAndGlyphs">23</text><text x="1139.5" y="361.2" textLength="7.4" lengthAdjust="spacingAndGlyphs">35</text><text x="1148.2" y="361.2" textLength="7.4" lengthAdjust="spacingAndGlyphs">35</text>
<text x="1159.6" y="361.2" textLength="7.4" lengthAdjust="spacingAndGlyphs">36</text><text x="1168.3" y="361.2" textLength="7.4" lengthAdjust="spacingAndGlyphs">36</text>
<text x="1179.7" y="361.2" textLength="7.4" lengthAdjust="spacingAndGlyphs">47</text><text x="1188.4" y="361.2" textLength="7.4" lengthAdjust="spacingAndGlyphs">55</text><text x="1197.1" y="361.2" textLength="7.4" lengthAdjust="spacingAndGlyphs">56</text>
</g>
</svg>
</body></html>
